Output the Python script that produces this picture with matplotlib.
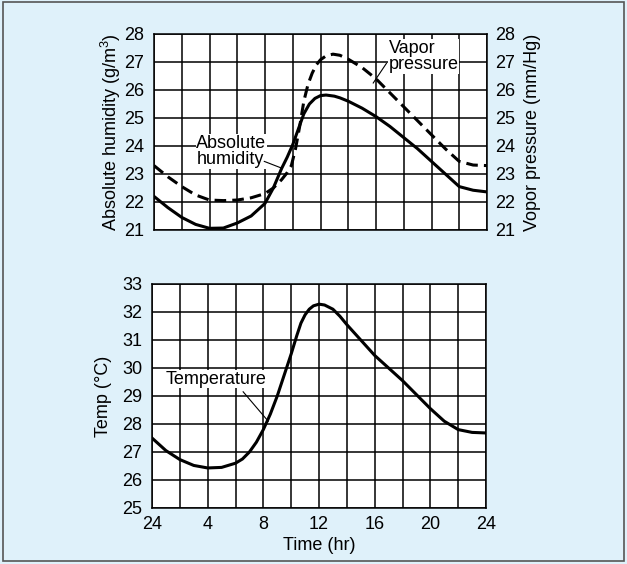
import matplotlib.pyplot as plt
from matplotlib.patches import Rectangle

plt.rcParams['font.family'] = ['Liberation Sans', 'DejaVu Sans']
plt.rcParams['mathtext.fontset'] = 'custom'
plt.rcParams['mathtext.rm'] = 'Liberation Sans'

BG = '#dff1fa'
FS = 13

# hours since midnight
hum_hours = [0, 1, 2, 3, 4, 5, 6, 7, 8, 8.6, 9.2, 9.6, 10, 10.4, 10.8, 11.2, 11.6, 12, 12.4,
             13, 13.4, 14, 15, 16, 17, 18, 19, 20, 21, 22, 23, 24]
abs_humidity = [22.2, 21.8, 21.45, 21.2, 21.06, 21.07, 21.25, 21.5, 21.95, 22.5, 23.2, 23.6,
                24.05, 24.6, 25.15, 25.5, 25.7, 25.8, 25.82, 25.78, 25.72, 25.6, 25.35, 25.05,
                24.7, 24.3, 23.9, 23.45, 23.0, 22.55, 22.42, 22.36]

vap_hours = [0, 1, 2, 3, 4, 5, 6, 7, 8, 8.6, 9.2, 9.6, 9.9, 10.2, 10.5, 10.8, 11.1, 11.4,
             11.7, 12, 12.4, 12.9, 13.4, 14, 15, 16, 17, 18, 19, 20, 21, 22, 23, 24]
vap_pressure = [23.3, 22.9, 22.55, 22.25, 22.07, 22.05, 22.07, 22.15, 22.3, 22.5, 22.8,
                23.05, 23.3, 23.9, 24.7, 25.6, 26.2, 26.6, 26.9, 27.08, 27.22, 27.28, 27.24,
                27.1, 26.8, 26.4, 25.9, 25.4, 24.9, 24.4, 23.9, 23.45, 23.32, 23.3]

temp_hours = [0, 1, 2, 3, 4, 5, 6, 6.5, 7, 7.5, 8, 8.5, 9, 9.5, 10, 10.4, 10.7, 11, 11.3,
              11.6, 12, 12.4, 13, 13.5, 14, 15, 16, 17, 18, 19, 20, 21, 22, 23, 24]
temperature = [27.5, 27.05, 26.73, 26.52, 26.43, 26.45, 26.6, 26.75, 27.0, 27.35, 27.8, 28.35,
               29.0, 29.75, 30.5, 31.15, 31.6, 31.9, 32.1, 32.22, 32.28, 32.25, 32.1, 31.85,
               31.55, 31.0, 30.45, 30.0, 29.55, 29.05, 28.55, 28.1, 27.8, 27.7, 27.68]

x_ticks = [0, 4, 8, 12, 16, 20, 24]
x_labels = ['24', '4', '8', '12', '16', '20', '24']

fig = plt.figure(figsize=(6.27, 5.64), dpi=100)
fig.patch.set_facecolor(BG)
fig.patches.append(Rectangle((0.004, 0.005), 0.992, 0.991, transform=fig.transFigure,
                             fill=False, edgecolor='#555555', linewidth=1.2))

W, H = 627, 564


def box(l, t, r, b):
    return [l / W, 1 - b / H, (r - l) / W, (b - t) / H]


def style_grid(ax, ylo, yhi):
    ax.set_facecolor('white')
    ax.set_xlim(0, 24)
    ax.set_ylim(ylo, yhi)
    ax.set_xticks(range(0, 25, 2), minor=False)
    ax.set_yticks(range(ylo, yhi + 1))
    ax.grid(True, color='black', linewidth=1.1)
    for s in ax.spines.values():
        s.set_linewidth(1.1)
    ax.tick_params(length=0, labelsize=FS)


ax1 = fig.add_axes(box(154, 34, 487, 230))
style_grid(ax1, 21, 28)
ax1.set_xticklabels([])
ax1.tick_params(axis='y', pad=7)
ax1.plot(hum_hours, abs_humidity, color='black', linewidth=2.2, zorder=3)
ax1.plot(vap_hours, vap_pressure, color='black', linewidth=2.2, dashes=(3.8, 2.0), zorder=3)
ax1.set_ylabel('Absolute humidity (g/m$^3$)', fontsize=FS, labelpad=1)

ax1r = ax1.twinx()
ax1r.set_ylim(21, 28)
ax1r.set_yticks(range(21, 29))
ax1r.tick_params(length=0, labelsize=FS, pad=6)
ax1r.set_ylabel('Vopor pressure (mm/Hg)', fontsize=FS, labelpad=6)
for s in ax1r.spines.values():
    s.set_visible(False)

ax1.text(3.05, 24.4, 'Absolute\nhumidity', fontsize=FS, va='top', ha='left', linespacing=0.95,
         bbox=dict(facecolor='white', edgecolor='none', pad=0.5), zorder=4)
ax1.plot([7.95, 9.25], [23.45, 23.2], color='black', linewidth=0.8, zorder=4)
ax1.text(16.9, 27.8, 'Vapor\npressure', fontsize=FS, va='top', ha='left', linespacing=0.95,
         bbox=dict(facecolor='white', edgecolor='none', pad=0.5), zorder=4)
ax1.plot([16.75, 15.8], [26.95, 26.25], color='black', linewidth=0.8, zorder=4)

ax2 = fig.add_axes(box(152, 284, 486, 508))
style_grid(ax2, 25, 33)
ax2.set_xticks(x_ticks)
ax2.set_xticks(range(0, 25, 2), minor=True)
ax2.grid(True, which='minor', axis='x', color='black', linewidth=1.1)
ax2.tick_params(which='minor', length=0)
ax2.set_xticklabels(x_labels)
ax2.tick_params(axis='y', pad=7)
ax2.tick_params(axis='x', pad=6)
ax2.plot(temp_hours, temperature, color='black', linewidth=2.2, zorder=3)
ax2.set_ylabel('Temp (\u00b0C)', fontsize=FS, labelpad=7)
ax2.set_xlabel('Time (hr)', fontsize=FS, labelpad=3)
ax2.text(1.0, 29.6, 'Temperature', fontsize=FS, va='center', ha='left',
         bbox=dict(facecolor='white', edgecolor='none', pad=0.5), zorder=4)
ax2.plot([6.55, 8.35], [29.15, 28.1], color='black', linewidth=0.8, zorder=4)

fig.savefig('out.png', dpi=100, facecolor=BG)
